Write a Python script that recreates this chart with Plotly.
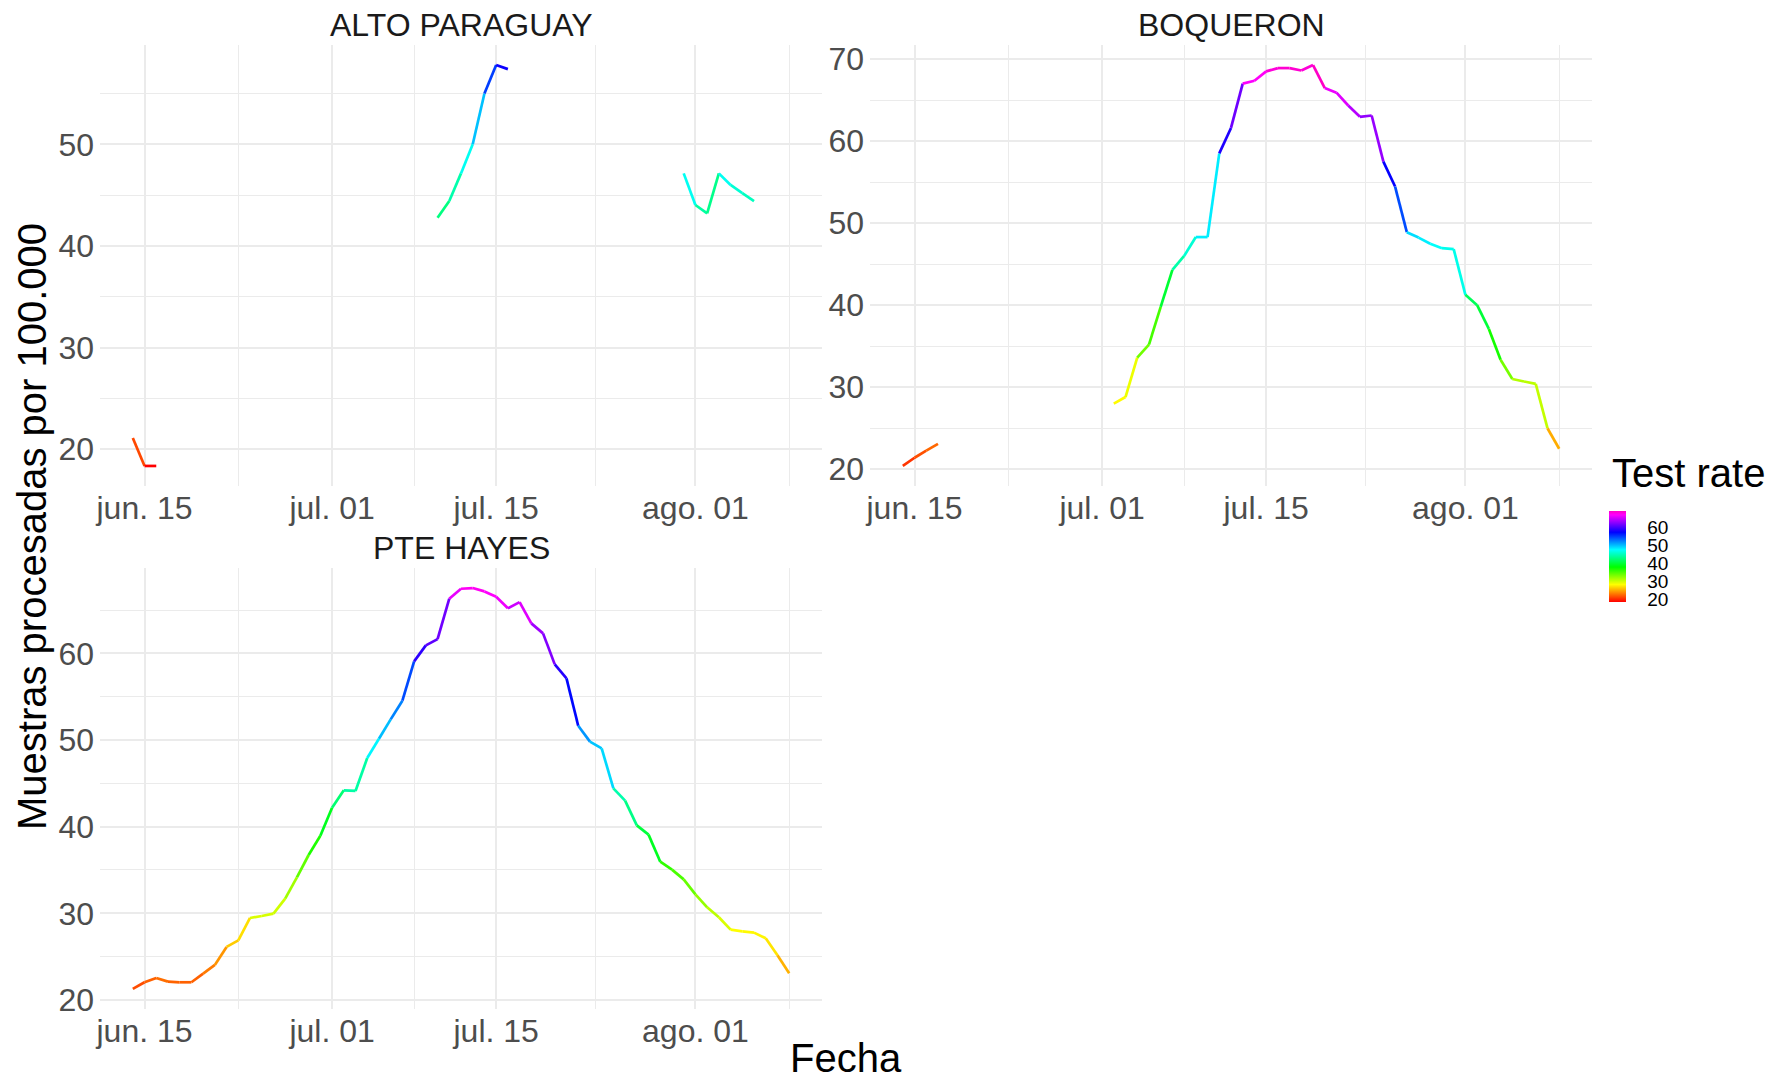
import colorsys
import numpy as np
import pandas as pd
import plotly.graph_objects as go
import plotly.colors as pc

FONT = "Liberation Sans, Arial, sans-serif"

# ---------------- data ----------------
dates = pd.date_range("2021-06-14", "2021-08-09", freq="D")

N = None
alto_paraguay = [21.1, 18.35, 18.35] + [N] * 14 + [N] * 9 + \
    [42.78, 44.42, 47.14, 50.0, 55.0, 57.8, 57.4] + [N] * 14 + \
    [47.14, 44.03, 43.2, 47.14, 46.0, 45.2, 44.42] + [N] * 3

boqueron = [20.4, 21.4, 22.27, 23.1] + [N] * 13 + [N] + \
    [28.0, 28.8, 33.6, 35.2, 39.8, 44.3, 46.0, 48.3, 48.3, 58.5, 61.6, 67.0,
     67.35, 68.5, 68.9, 68.9, 68.6, 69.27, 66.46, 65.9, 64.34, 62.96, 63.12,
     57.5, 54.46, 48.9, 48.24, 47.48, 46.95, 46.83] + \
    [41.26, 40.0, 37.1, 33.35, 31.0, 30.7, 30.4, 25.0, 22.5]

pte_hayes = [21.27, 22.04, 22.54, 22.12, 22.04, 22.04, 23.04, 24.04, 26.12,
             26.88, 29.46, 29.69, 29.96, 31.69, 34.15, 36.73, 38.96] + \
    [42.19, 44.19, 44.12, 47.92, 50.15, 52.38, 54.54, 59.08, 60.92, 61.65,
     66.31, 67.46, 67.54, 67.15, 66.54, 65.2, 65.92, 63.46, 62.31, 58.73,
     57.12, 51.65, 49.81, 49.04, 44.42, 43.0, 40.15, 39.08, 35.96, 35.04,
     33.92] + \
    [32.19, 30.69, 29.54, 28.12, 27.92, 27.77, 27.12, 25.15, 23.08]

panel_names = ["ALTO PARAGUAY", "BOQUERON", "PTE HAYES"]
panel_values = [alto_paraguay, boqueron, pte_hayes]

x_major = ["2021-06-15", "2021-07-01", "2021-07-15", "2021-08-01"]
x_major_labels = ["jun. 15", "jul. 01", "jul. 15", "ago. 01"]
x_minor = ["2021-06-23", "2021-07-08", "2021-07-23 12:00", "2021-08-09"]
legend_ticks = [20, 30, 40, 50, 60]

# rainbow palette: hue from red to pink-magenta
HUE_END = 0.87
colorscale = []
for t in np.linspace(0, 1, 121):
    r, g, b = colorsys.hsv_to_rgb(t * HUE_END, 1.0, 1.0)
    colorscale.append([float(t), f"rgb({round(r * 255)},{round(g * 255)},{round(b * 255)})"])

all_vals = [v for arr in panel_values for v in arr if v is not None]
cmin, cmax = min(all_vals), max(all_vals)


def color_of(v):
    return pc.sample_colorscale(colorscale, [(v - cmin) / (cmax - cmin)])[0]


# ---------------- page geometry ----------------
W, H = 1772, 1082


def px_x(x):
    return x / W


def px_y(y):
    return 1 - y / H


# ---------------- figure ----------------
fig = go.Figure()
axes_ids = [("x", "y"), ("x2", "y2"), ("x3", "y3")]

for vals, (xa, ya) in zip(panel_values, axes_ids):
    for i in range(len(vals) - 1):
        if vals[i] is None or vals[i + 1] is None:
            continue
        fig.add_trace(go.Scatter(
            x=[dates[i], dates[i + 1]], y=[vals[i], vals[i + 1]],
            mode="lines", line=dict(color=color_of(vals[i]), width=2.7),
            xaxis=xa, yaxis=ya, showlegend=False, hoverinfo="skip"))

# colour bar carrier
hx = [d for d, v in zip(dates, pte_hayes) if v is not None]
hy = [v for v in pte_hayes if v is not None]
fig.add_trace(go.Scatter(
    x=hx, y=hy, mode="markers", xaxis="x3", yaxis="y3", showlegend=False,
    hoverinfo="skip",
    marker=dict(size=0.1, color=hy, colorscale=colorscale, cmin=cmin, cmax=cmax,
                showscale=True,
                colorbar=dict(x=px_x(1609), xanchor="left", y=px_y(511),
                              yanchor="top", len=91, lenmode="pixels",
                              thickness=17, thicknessmode="pixels",
                              outlinewidth=0, xpad=0, ypad=0,
                              tickmode="array", tickvals=legend_ticks,
                              ticks="outside", ticklen=18, tickcolor="white",
                              tickfont=dict(size=19, color="#000000", family=FONT)))))

span = dates[-1] - dates[0]
x_range = [dates[0] - 0.05 * span, dates[-1] + 0.05 * span]

grid = "#EBEBEB"


def xaxis_cfg(domain, anchor):
    return dict(domain=domain, anchor=anchor, type="date", range=x_range,
                automargin=False,
                tickmode="array", tickvals=x_major, ticktext=x_major_labels,
                showgrid=True, gridcolor=grid, gridwidth=1.5,
                minor=dict(tickmode="array", tickvals=x_minor, showgrid=True,
                           gridcolor=grid, gridwidth=1.1),
                zeroline=False, showline=False, ticks="",
                tickfont=dict(size=32, color="#4D4D4D", family=FONT))


def yaxis_cfg(domain, anchor, vals):
    v = [a for a in vals if a is not None]
    lo, hi = min(v), max(v)
    pad = 0.05 * (hi - lo)
    return dict(domain=domain, anchor=anchor, range=[lo - pad, hi + pad],
                automargin=False,
                tick0=0, dtick=10, showgrid=True, gridcolor=grid, gridwidth=1.5,
                minor=dict(tick0=0, dtick=5, showgrid=True, gridcolor=grid,
                           gridwidth=1.1),
                zeroline=False, showline=False, ticks="", ticklabelstandoff=5,
                tickfont=dict(size=32, color="#4D4D4D", family=FONT))


left = [px_x(100), px_x(822)]
right = [px_x(870), px_x(1592)]
top = [px_y(486), px_y(45)]
bottom = [px_y(1009), px_y(568)]

fig.update_layout(
    width=W, height=H, autosize=False,
    margin=dict(l=0, r=0, t=0, b=0, pad=0, autoexpand=False),
    paper_bgcolor="white", plot_bgcolor="white",
    font=dict(family=FONT),
    xaxis=xaxis_cfg(left, "y"), yaxis=yaxis_cfg(top, "x", alto_paraguay),
    xaxis2=xaxis_cfg(right, "y2"), yaxis2=yaxis_cfg(top, "x2", boqueron),
    xaxis3=xaxis_cfg(left, "y3"), yaxis3=yaxis_cfg(bottom, "x3", pte_hayes),
)

ann = []
for name, dom_x, yc in [(panel_names[0], left, 25), (panel_names[1], right, 25),
                        (panel_names[2], left, 548)]:
    ann.append(dict(text=name, x=(dom_x[0] + dom_x[1]) / 2, y=px_y(yc),
                    xref="paper", yref="paper", showarrow=False,
                    xanchor="center", yanchor="middle",
                    font=dict(size=32, color="#1A1A1A", family=FONT)))
ann.append(dict(text="Muestras procesadas por 100.000", x=px_x(32), y=px_y(527),
                xref="paper", yref="paper", showarrow=False, textangle=-90,
                xanchor="center", yanchor="middle",
                font=dict(size=40, color="#000000", family=FONT)))
ann.append(dict(text="Fecha", x=px_x(846), y=px_y(1058),
                xref="paper", yref="paper", showarrow=False,
                xanchor="center", yanchor="middle",
                font=dict(size=40, color="#000000", family=FONT)))
ann.append(dict(text="Test rate", x=px_x(1610), y=px_y(473),
                xref="paper", yref="paper", showarrow=False,
                xanchor="left", yanchor="middle",
                font=dict(size=40, color="#000000", family=FONT)))
fig.update_layout(annotations=ann)

fig.write_html("out.html", config={"responsive": False, "displayModeBar": False},
               post_script="document.documentElement.style.margin='0';"
                           "document.body.style.margin='0';"
                           "document.body.style.padding='0';"
                           "document.body.style.overflow='hidden';"
                           "document.documentElement.style.overflow='hidden';")
